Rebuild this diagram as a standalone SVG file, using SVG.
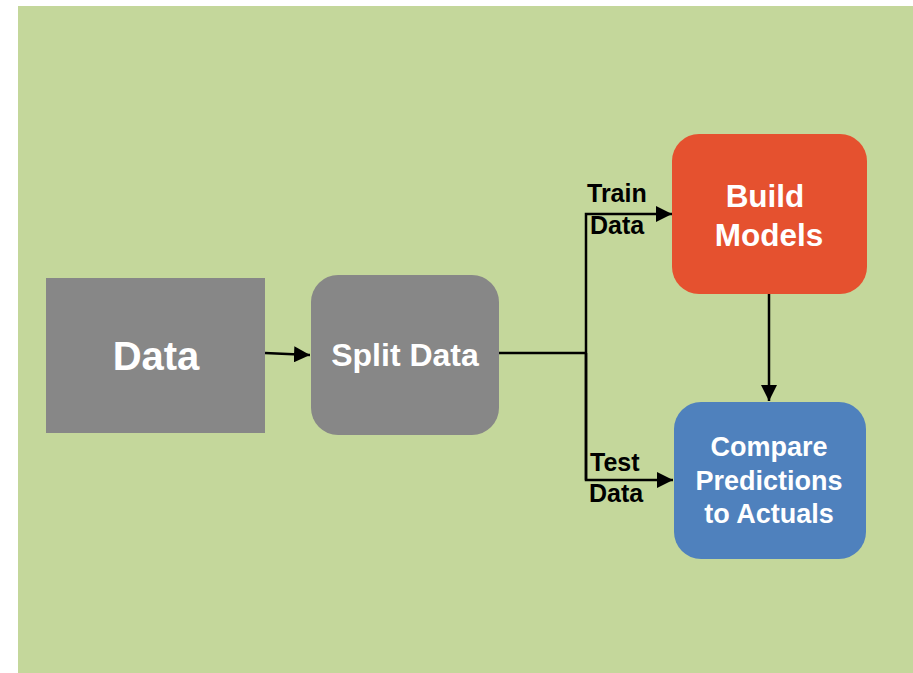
<svg xmlns="http://www.w3.org/2000/svg" width="913" height="673" viewBox="0 0 913 673">
  <defs>
    <style>
      .lbl { font-family: "Liberation Sans", Arial, sans-serif; font-weight: bold; }
      .white { fill: #ffffff; text-anchor: middle; }
      .black { fill: #000000; }
      .wire { stroke: #000000; stroke-width: 2.5; fill: none; }
    </style>
    <marker id="head" markerUnits="userSpaceOnUse" markerWidth="17" markerHeight="16" refX="16" refY="8" orient="auto">
      <path d="M0,0 L16,8 L0,16 Z" fill="#000000"/>
    </marker>
  </defs>

  <!-- backdrop -->
  <rect x="0" y="0" width="913" height="673" fill="#ffffff"/>
  <rect x="18" y="6" width="895" height="667" fill="#C4D79B"/>

  <!-- connectors -->
  <g id="connectors">
    <line class="wire" x1="265" y1="353" x2="310" y2="355" marker-end="url(#head)"/>
    <polyline class="wire" points="499,353 586,353"/>
    <polyline class="wire" points="586,480 586,214 672,214" marker-end="url(#head)"/>
    <polyline class="wire" points="586,353 586,480 673,480" marker-end="url(#head)"/>
    <line class="wire" x1="769" y1="294" x2="769" y2="401" marker-end="url(#head)"/>
    <text class="lbl black" x="587" y="202" font-size="25">Train</text>
    <text class="lbl black" x="590" y="234" font-size="25">Data</text>
    <text class="lbl black" x="590" y="471" font-size="25">Test</text>
    <text class="lbl black" x="589" y="502" font-size="25">Data</text>
  </g>

  <!-- Data -->
  <g id="data">
    <rect x="46" y="278" width="219" height="155" fill="#878787"/>
    <text class="lbl white" x="156" y="370" font-size="40">Data</text>
  </g>

  <!-- Split Data -->
  <g id="split-data">
    <rect x="311" y="275" width="188" height="160" rx="27" ry="27" fill="#878787"/>
    <text class="lbl white" x="405" y="366" font-size="32">Split Data</text>
  </g>

  <!-- Build Models -->
  <g id="build-models">
    <rect x="672" y="134" width="195" height="160" rx="27" ry="27" fill="#E5512F"/>
    <text class="lbl white" x="765" y="207" font-size="31.5">Build</text>
    <text class="lbl white" x="769" y="246" font-size="31.5">Models</text>
  </g>

  <!-- Compare Predictions to Actuals -->
  <g id="compare">
    <rect x="674" y="402" width="192" height="157" rx="27" ry="27" fill="#4F81BD"/>
    <text class="lbl white" x="769" y="456" font-size="27">Compare</text>
    <text class="lbl white" x="769" y="490" font-size="27">Predictions</text>
    <text class="lbl white" x="769" y="523" font-size="27">to Actuals</text>
  </g>
</svg>
